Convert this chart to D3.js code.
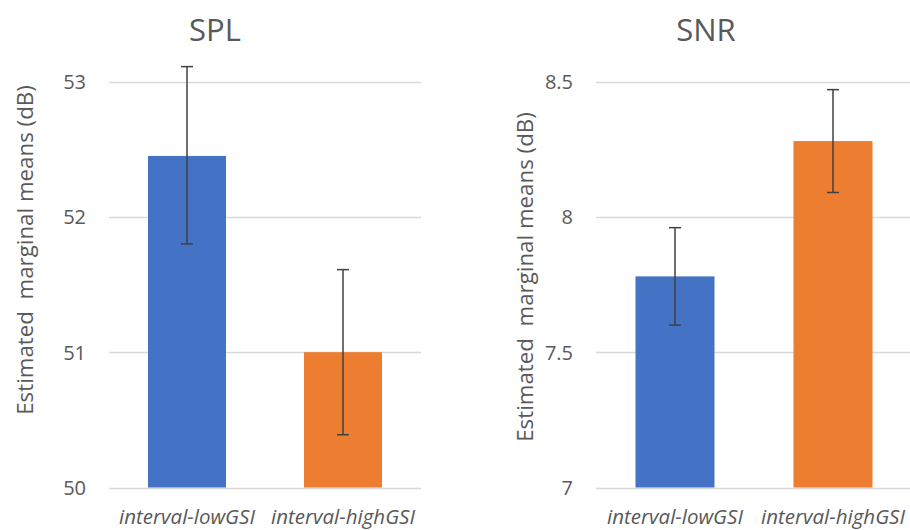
<!DOCTYPE html>
<html><head><meta charset="utf-8">
<script src="https://cdn.jsdelivr.net/npm/d3@7"></script>
<style>body{margin:0;background:#fff}svg{display:block}</style>
</head><body>
<svg id="chart" width="910" height="530"></svg>
<script>
const categories = ["interval-lowGSI", "interval-highGSI"];
const colors = ["#4472C4", "#ED7D31"];
const splMeans = [52.45, 51.00];
const splUpper = [53.11, 51.61];
const splLower = [51.80, 50.39];
const snrMeans = [7.78, 8.28];
const snrUpper = [7.96, 8.47];
const snrLower = [7.60, 8.09];
const splTicks = [50, 51, 52, 53];
const snrTicks = [7, 7.5, 8, 8.5];

const svg = d3.select("#chart");
const font = "'Open Sans', sans-serif";
const textColor = "#595959";

function panel(opts) {
  const g = svg.append("g");
  const y = d3.scaleLinear().domain(opts.domain).range([487.5, 81.5]);
  const x = d3.scaleBand().domain(categories).range([opts.x0, opts.x1]).paddingInner(0.5).paddingOuter(0.25);

  // gridlines
  g.selectAll("line.grid").data(opts.ticks).enter().append("line")
    .attr("x1", opts.x0).attr("x2", opts.x1)
    .attr("y1", d => Math.round(y(d)) + 0.5).attr("y2", d => Math.round(y(d)) + 0.5)
    .attr("stroke", "#d9d9d9").attr("stroke-width", 1.3);

  // y axis labels
  const yAxis = d3.axisLeft(y).tickValues(opts.ticks).tickSize(0).tickPadding(0).tickFormat(opts.fmt);
  const ag = g.append("g").attr("transform", `translate(${opts.tickX},0)`).call(yAxis);
  ag.select(".domain").remove();
  ag.selectAll("text").attr("font-family", font).attr("font-size", 20).attr("fill", textColor).attr("dy", "0.35em");

  // bars
  g.selectAll("rect.bar").data(categories).enter().append("rect")
    .attr("x", d => x(d)).attr("width", x.bandwidth())
    .attr("y", (d, i) => y(opts.means[i]))
    .attr("height", (d, i) => y(opts.domain[0]) - y(opts.means[i]))
    .attr("fill", (d, i) => colors[i]);

  // error bars
  const cap = 6;
  const eb = g.selectAll("g.err").data(categories).enter().append("g")
    .attr("stroke", "#404040").attr("stroke-width", 1.5);
  eb.append("line")
    .attr("x1", d => x(d) + x.bandwidth() / 2).attr("x2", d => x(d) + x.bandwidth() / 2)
    .attr("y1", (d, i) => y(opts.upper[i])).attr("y2", (d, i) => y(opts.lower[i]));
  eb.append("line")
    .attr("x1", d => x(d) + x.bandwidth() / 2 - cap).attr("x2", d => x(d) + x.bandwidth() / 2 + cap)
    .attr("y1", (d, i) => y(opts.upper[i])).attr("y2", (d, i) => y(opts.upper[i]));
  eb.append("line")
    .attr("x1", d => x(d) + x.bandwidth() / 2 - cap).attr("x2", d => x(d) + x.bandwidth() / 2 + cap)
    .attr("y1", (d, i) => y(opts.lower[i])).attr("y2", (d, i) => y(opts.lower[i]));

  // category labels
  g.selectAll("text.cat").data(categories).enter().append("text")
    .attr("x", d => x(d) + x.bandwidth() / 2).attr("y", 524)
    .attr("text-anchor", "middle").attr("font-family", font).attr("font-style", "italic")
    .attr("font-size", 20.5).attr("fill", textColor).text(d => d);

  // title
  g.append("text").attr("x", opts.titleX).attr("y", 41).attr("text-anchor", "middle")
    .attr("font-family", font).attr("font-size", 31).attr("fill", textColor).text(opts.title);

  // y label
  g.append("text").attr("transform", `translate(${opts.labelX},${opts.labelY}) rotate(-90)`)
    .attr("text-anchor", "middle").attr("font-family", font).attr("font-size", 22.3)
    .attr("fill", textColor).style("white-space", "pre").text("Estimated  marginal means (dB)");
}

panel({domain: [50, 53], ticks: splTicks, fmt: d3.format("d"), means: splMeans, upper: splUpper, lower: splLower,
  x0: 109, x1: 421, tickX: 86, labelX: 33, labelY: 250, titleX: 215, title: "SPL"});
panel({domain: [7, 8.5], ticks: snrTicks, fmt: d => (d % 1 === 0 ? d3.format("d")(d) : d3.format(".1f")(d)),
  means: snrMeans, upper: snrUpper, lower: snrLower,
  x0: 596, x1: 912, tickX: 573, labelX: 533, labelY: 277, titleX: 706, title: "SNR"});
</script>
</body></html>
